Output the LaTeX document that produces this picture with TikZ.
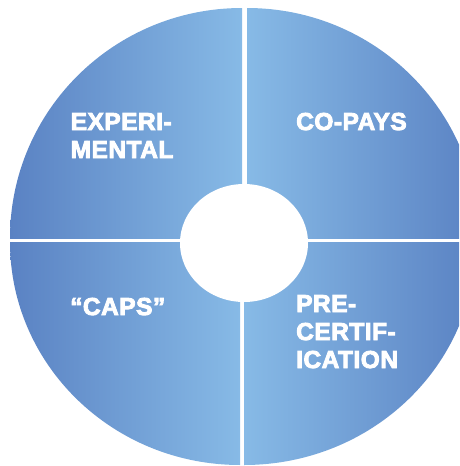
\documentclass[tikz,border=0pt]{standalone}
\usepackage{fontspec}
\setmainfont{Liberation Sans}
\newfontfamily\lblfont{Liberation Sans Bold}[FakeBold=3.5, LetterSpace=2]
\definecolor{dk}{RGB}{90,130,195}
\definecolor{lt}{RGB}{135,186,230}
\begin{document}
\begin{tikzpicture}[x=1pt,y=-1pt,
  lbl/.style={text=white, font=\lblfont\fontsize{24.5}{28}\selectfont, inner sep=0pt, align=left, anchor=base west},
  hole/.style={fill=white, draw=none}]
\useasboundingbox (0,0) rectangle (459,466);
\begin{scope}
\clip (0,0) rectangle (459,466);
% top left
\begin{scope}
\clip (242,238) ellipse[x radius=232pt, y radius=230pt];
\shade[left color=dk, right color=lt] (10,8) rectangle (242,238);
\end{scope}
% top right
\begin{scope}
\clip (247,238) ellipse[x radius=232pt, y radius=230pt];
\shade[left color=lt, right color=dk] (247,8) rectangle (479,238);
\end{scope}
% bottom left
\begin{scope}
\clip (240,242) ellipse[x radius=230pt, y radius=223pt];
\shade[left color=dk, right color=lt] (10,242) rectangle (240,466);
\end{scope}
% bottom right
\begin{scope}
\clip (244,242) ellipse[x radius=232pt, y radius=223pt];
\shade[left color=lt, right color=dk] (244,242) rectangle (476,466);
\end{scope}
\end{scope}
\fill[hole] (244,243) ellipse[x radius=64pt, y radius=59pt];
\node[lbl] (exp) at (70.5,158) {EXPERI-\\MENTAL};
\node[lbl] (cop) at (296,130) {CO-PAYS};
\node[lbl] (cap) at (70,315) {“CAPS”};
\node[lbl] (pre) at (296,368) {PRE-\\CERTIF-\\ICATION};
\end{tikzpicture}
\end{document}
